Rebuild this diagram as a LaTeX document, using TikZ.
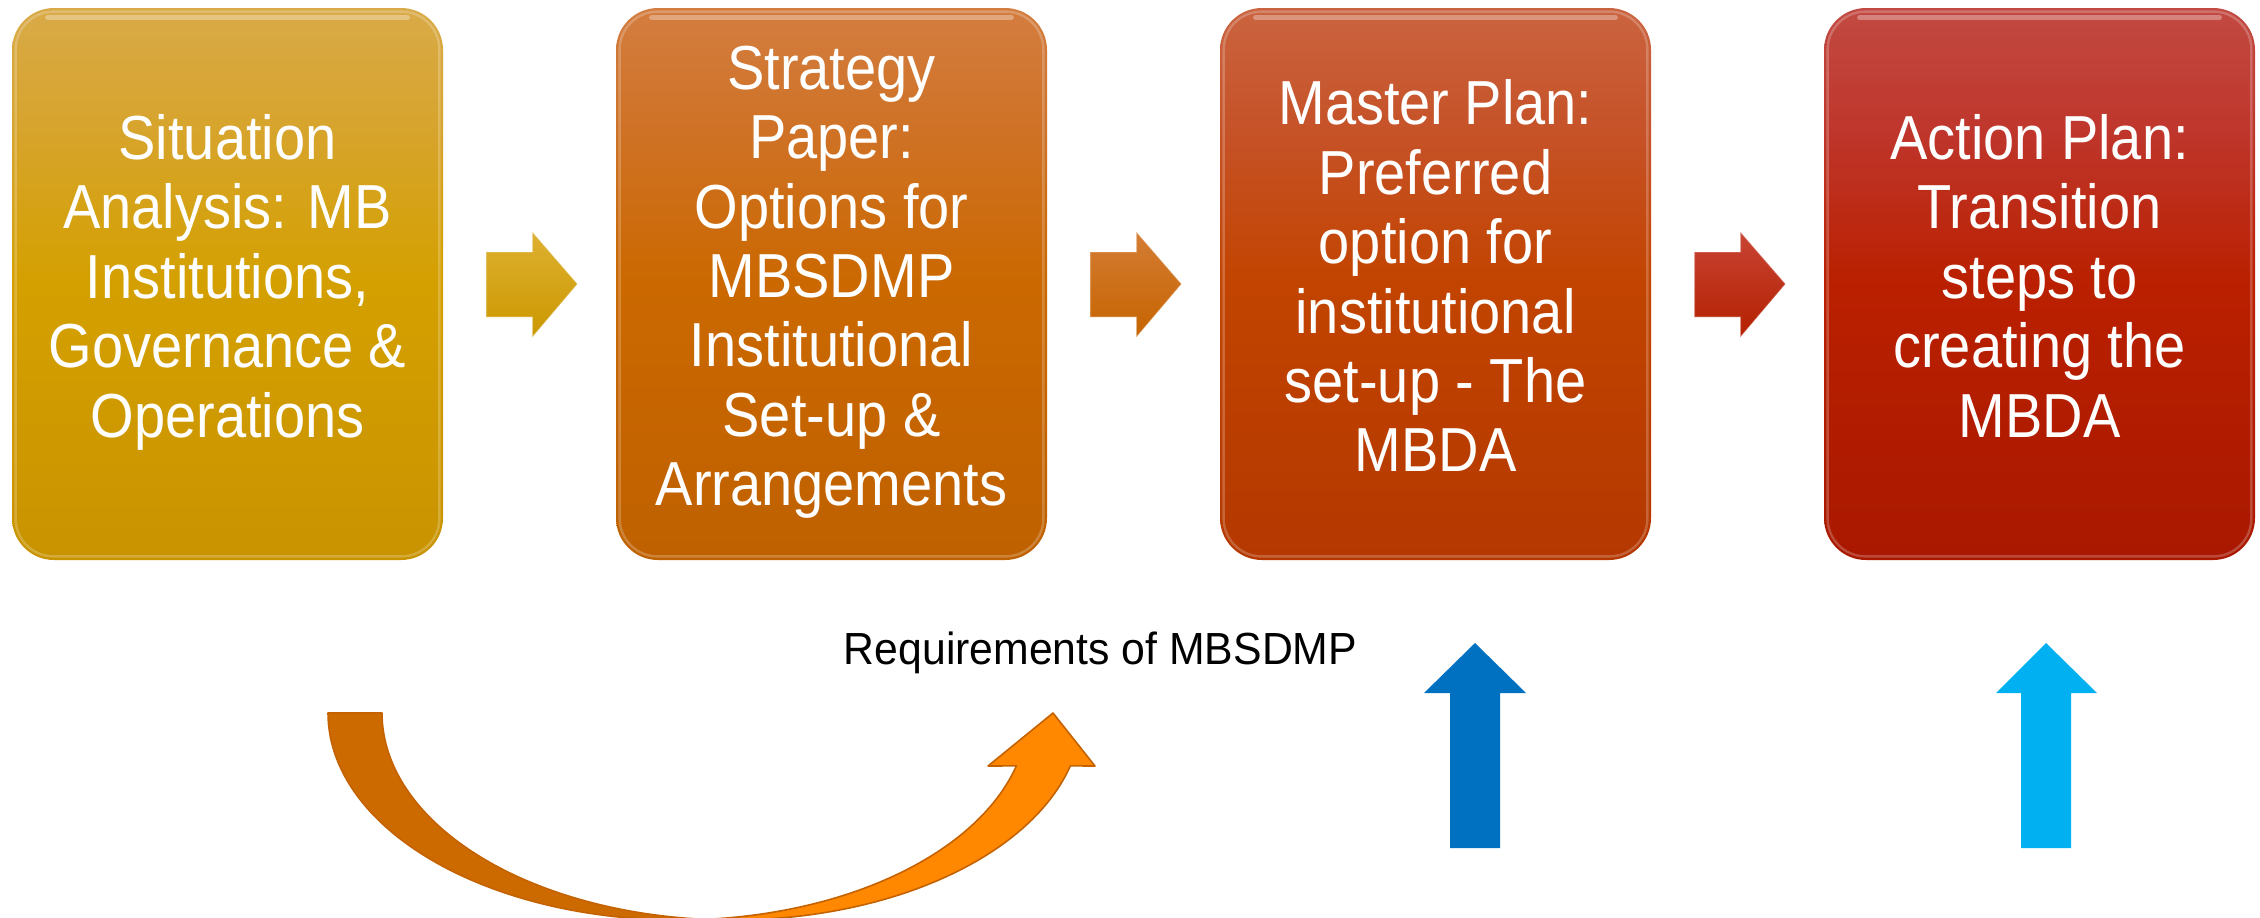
\documentclass[tikz,border=0pt]{standalone}
\usepackage{fontspec}
\setmainfont{Liberation Sans}
\newfontfamily\boxfont{Liberation Sans}[FakeStretch=0.9]
\newfontfamily\labfont{Liberation Sans}[FakeStretch=0.95]
\usetikzlibrary{calc}

\definecolor{bAtop}{HTML}{D9AA48}\definecolor{bAup}{HTML}{D7A42C}\definecolor{bAmid}{HTML}{D4A000}\definecolor{bAbot}{HTML}{C99300}
\definecolor{bBtop}{HTML}{D37D40}\definecolor{bBup}{HTML}{CF7226}\definecolor{bBmid}{HTML}{CB6800}\definecolor{bBbot}{HTML}{BF6100}
\definecolor{bCtop}{HTML}{CA6440}\definecolor{bCup}{HTML}{C65228}\definecolor{bCmid}{HTML}{C24400}\definecolor{bCbot}{HTML}{B43800}
\definecolor{bDtop}{HTML}{C24A42}\definecolor{bDup}{HTML}{BF362C}\definecolor{bDmid}{HTML}{BA2000}\definecolor{bDbot}{HTML}{A91800}
\definecolor{aAtop}{HTML}{DDB030}\definecolor{aAbot}{HTML}{CC9800}
\definecolor{aBtop}{HTML}{D47C34}\definecolor{aBbot}{HTML}{C66400}
\definecolor{aCtop}{HTML}{C84434}\definecolor{aCbot}{HTML}{B42000}
\definecolor{curveback}{HTML}{CC6A00}
\definecolor{curvefront}{HTML}{FF8800}
\definecolor{curveline}{HTML}{C46200}
\definecolor{blueA}{HTML}{0070C0}
\definecolor{blueB}{HTML}{00B0F0}

\pgfdeclareverticalshading{boxAshade}{100bp}{color(0bp)=(bAbot); color(25bp)=(bAbot); color(50bp)=(bAmid); color(64bp)=(bAup); color(75bp)=(bAtop); color(100bp)=(bAtop)}
\pgfdeclareverticalshading{boxBshade}{100bp}{color(0bp)=(bBbot); color(25bp)=(bBbot); color(50bp)=(bBmid); color(64bp)=(bBup); color(75bp)=(bBtop); color(100bp)=(bBtop)}
\pgfdeclareverticalshading{boxCshade}{100bp}{color(0bp)=(bCbot); color(25bp)=(bCbot); color(50bp)=(bCmid); color(64bp)=(bCup); color(75bp)=(bCtop); color(100bp)=(bCtop)}
\pgfdeclareverticalshading{boxDshade}{100bp}{color(0bp)=(bDbot); color(25bp)=(bDbot); color(50bp)=(bDmid); color(64bp)=(bDup); color(75bp)=(bDtop); color(100bp)=(bDtop)}
\pgfdeclareverticalshading{arrAshade}{100bp}{color(0bp)=(aAbot); color(25bp)=(aAbot); color(75bp)=(aAtop); color(100bp)=(aAtop)}
\pgfdeclareverticalshading{arrBshade}{100bp}{color(0bp)=(aBbot); color(25bp)=(aBbot); color(75bp)=(aBtop); color(100bp)=(aBtop)}
\pgfdeclareverticalshading{arrCshade}{100bp}{color(0bp)=(aCbot); color(25bp)=(aCbot); color(75bp)=(aCtop); color(100bp)=(aCtop)}

\tikzset{
  stagebox/.style={rectangle, rounded corners=21pt, minimum width=215.5pt,
    minimum height=276pt, inner sep=0pt, align=center, text=white, shade,
    font=\boxfont\fontsize{31.1pt}{34.7pt}\selectfont,
    execute at begin node={\rule{0pt}{33.5pt}},
    execute at end node={\rule[-8.2pt]{0pt}{8.2pt}}},
  gloss/.style={white, opacity=.32, line width=2.5pt, line cap=round},
  innerglow/.style={white, opacity=.22, line width=1.2pt, rounded corners=19pt},
  stepshape/.style={shade, draw=white, draw opacity=.25, line width=.6pt},
  curvepart/.style={draw=curveline, line width=.8pt, line join=round},
}

\begin{document}
\begin{tikzpicture}[x=0.5pt, y=-0.5pt]
\useasboundingbox (0,0) rectangle (2260,917);

% stage boxes
\node[stagebox, shading=boxAshade] (s1) at (227.5,284) {Situation\\Analysis: MB\\Institutions,\\Governance \&\\Operations};
\node[stagebox, shading=boxBshade] (s2) at (831.5,284) {Strategy\\Paper:\\Options for\\MBSDMP\\Institutional\\Set-up \&\\Arrangements};
\node[stagebox, shading=boxCshade] (s3) at (1435.5,284) {Master Plan:\\Preferred\\option for\\institutional\\set-up - The\\MBDA};
\node[stagebox, shading=boxDshade] (s4) at (2039.5,284) {Action Plan:\\Transition\\steps to\\creating the\\MBDA};

% gloss highlights
\foreach \b in {s1,s2,s3,s4}{
  \draw[gloss] ($(\b.north west)+(36,10)$) -- ($(\b.north east)+(-36,10)$);
  \draw[innerglow] ($(\b.north west)+(4,4)$) rectangle ($(\b.south east)+(-4,-4)$);
}

% block arrows between the boxes
\begin{scope}[shift={(s1.east)}]
  \path[stepshape, shading=arrAshade] (43,-32) -- (89,-32) -- (89,-52) -- (134,0) -- (89,53) -- (89,33) -- (43,33) -- cycle;
\end{scope}
\begin{scope}[shift={(s2.east)}]
  \path[stepshape, shading=arrBshade] (43,-32) -- (89,-32) -- (89,-52) -- (134,0) -- (89,53) -- (89,33) -- (43,33) -- cycle;
\end{scope}
\begin{scope}[shift={(s3.east)}]
  \path[stepshape, shading=arrCshade] (43,-32) -- (89,-32) -- (89,-52) -- (134,0) -- (89,53) -- (89,33) -- (43,33) -- cycle;
\end{scope}

% label
\node[anchor=base, inner sep=0pt, font=\labfont\fontsize{22.5pt}{27pt}\selectfont] (req) at (1100.5,664) {Requirements of MBSDMP};

% curved up arrow
\begin{scope}
\clip (0,0) rectangle (2260,917);
\fill[curveback, curvepart]
  plot[domain=180:85.6, samples=60, variable=\t] ({678+350*cos(\t)},{713+207*sin(\t)})
  -- plot[domain=94.4:180, samples=60, variable=\t] ({732+350*cos(\t)},{713+207*sin(\t)})
  -- cycle;
\fill[curvefront, curvepart]
  plot[domain=85.6:14.8, samples=60, variable=\t] ({678+350*cos(\t)},{713+207*sin(\t)})
  -- (988,766) -- (1053,713) -- (1095,766)
  -- plot[domain=14.8:94.4, samples=60, variable=\t] ({732+350*cos(\t)},{713+207*sin(\t)})
  -- cycle;
\end{scope}

% blue up arrows
\fill[blueA] (1450,848) -- (1450,693) -- (1424,693) -- (1475,643) -- (1526,693) -- (1500,693) -- (1500,848) -- cycle;
\fill[blueB] (2021,848) -- (2021,693) -- (1996,693) -- (2046,643) -- (2097,693) -- (2071,693) -- (2071,848) -- cycle;
\end{tikzpicture}
\end{document}
